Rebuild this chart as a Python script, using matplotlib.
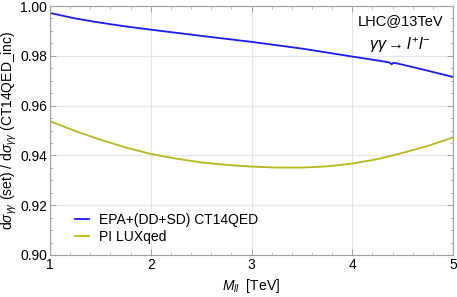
import matplotlib
matplotlib.use('Agg')
import matplotlib.pyplot as plt
from matplotlib.ticker import MultipleLocator

plt.rcParams['font.family'] = ['Liberation Sans', 'DejaVu Sans']
plt.rcParams['mathtext.fontset'] = 'custom'
plt.rcParams['mathtext.rm'] = 'Liberation Sans'
plt.rcParams['mathtext.it'] = 'Liberation Sans:italic'

# M_ll in TeV
m_blue = [1.0, 1.25, 1.5, 1.75, 2.0, 2.5, 3.0, 3.5, 4.0, 4.3, 4.37, 4.39, 4.41, 4.45, 4.7, 5.0]
r_blue = [0.9972, 0.9950, 0.9933, 0.9918, 0.9905, 0.9880, 0.9856, 0.9829, 0.9797, 0.9778, 0.9773,
          0.9766, 0.9772, 0.9769, 0.9745, 0.9715]

m_olive = [1.0, 1.25, 1.5, 1.75, 2.0, 2.25, 2.5, 2.75, 3.0, 3.25, 3.5, 3.75, 4.0, 4.25, 4.5, 4.75, 5.0]
r_olive = [0.9537, 0.9498, 0.9463, 0.9432, 0.9406, 0.9387, 0.9372, 0.9362, 0.9355, 0.9351, 0.9351,
           0.9356, 0.9367, 0.9385, 0.9410, 0.9438, 0.9472]

x_ticks = [1, 2, 3, 4, 5]
y_ticks = [0.90, 0.92, 0.94, 0.96, 0.98, 1.00]

fig = plt.figure(figsize=(4.57, 2.97), dpi=100)
ax = fig.add_axes([50/457, 42/297, 403/457, 249/297])

ax.plot(m_blue, r_blue, color='#1a1aff', lw=1.3, label='EPA+(DD+SD) CT14QED')
ax.plot(m_olive, r_olive, color='#b8b81a', lw=1.3, label='PI LUXqed')

ax.set_xlim(1, 5)
ax.set_ylim(0.90, 1.00)
ax.set_xticks(x_ticks)
ax.set_xticklabels([str(t) for t in x_ticks])
ax.set_yticks(y_ticks)
ax.set_yticklabels(['%.2f' % t for t in y_ticks])
ax.xaxis.set_minor_locator(MultipleLocator(0.2))
ax.yaxis.set_minor_locator(MultipleLocator(0.005))
ax.grid(True, which='major', color='#e6e6e6', lw=0.9)
ax.set_axisbelow(True)

for s in ax.spines.values():
    s.set_color('#a0a0a0')
    s.set_linewidth(0.8)
ax.tick_params(which='both', direction='in', color='#a0a0a0', top=True, right=True,
               labelsize=10, labelcolor='black')
ax.tick_params(which='major', length=4, width=0.7, pad=2)
ax.tick_params(which='minor', length=2, width=0.5)

ax.set_xlabel(r'$M_{ll}$  [TeV]', fontsize=10, labelpad=4)
ax.set_ylabel(r'd$\sigma_{\gamma\gamma}$ (set) / d$\sigma_{\gamma\gamma}$ (CT14QED_inc)', fontsize=10)
ax.yaxis.set_label_coords(-0.078, 0.5)

ax.text(0.871, 0.94, 'LHC@13TeV', transform=ax.transAxes, ha='center', va='center', fontsize=10.5)
ax.text(0.869, 0.843, r'$\gamma\gamma \rightarrow l^{+}l^{-}$', transform=ax.transAxes,
        ha='center', va='center', fontsize=11.5)

ax.legend(loc='lower left', bbox_to_anchor=(0.045, 0.015), frameon=False, fontsize=10,
          handlelength=1.0, handletextpad=0.7, labelspacing=0.25, borderpad=0)

fig.savefig('out.png', dpi=100)
